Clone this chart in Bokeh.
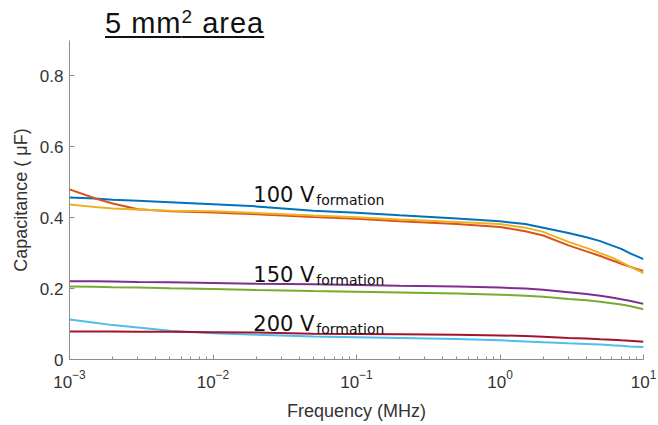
from bokeh.plotting import figure
from bokeh.models import Label, FixedTicker, Range1d, Div
from bokeh.layouts import column
from bokeh.embed import file_html
from bokeh.resources import INLINE

# ---- data ----
freq_mhz = [0.001, 0.0015, 0.002, 0.003, 0.005, 0.01, 0.02, 0.05, 0.1, 0.2, 0.5,
            1, 1.5, 2, 3, 4, 5, 6, 7, 8, 10]

cap_blue = [0.457, 0.454, 0.451, 0.448, 0.444, 0.438, 0.432, 0.420, 0.414, 0.407, 0.398,
            0.390, 0.382, 0.372, 0.357, 0.345, 0.334, 0.322, 0.312, 0.300, 0.283]
cap_orange = [0.480, 0.455, 0.440, 0.424, 0.418, 0.415, 0.410, 0.402, 0.397, 0.390, 0.382,
              0.374, 0.362, 0.350, 0.322, 0.305, 0.292, 0.280, 0.270, 0.262, 0.250]
cap_yellow = [0.437, 0.430, 0.426, 0.423, 0.420, 0.418, 0.413, 0.406, 0.401, 0.395, 0.388,
              0.382, 0.372, 0.360, 0.332, 0.315, 0.300, 0.288, 0.275, 0.263, 0.244]
cap_purple = [0.221, 0.2205, 0.220, 0.219, 0.218, 0.216, 0.214, 0.212, 0.210, 0.208, 0.206,
              0.203, 0.200, 0.197, 0.190, 0.185, 0.180, 0.175, 0.170, 0.166, 0.157]
cap_green = [0.206, 0.205, 0.204, 0.203, 0.201, 0.199, 0.196, 0.193, 0.191, 0.189, 0.186,
             0.183, 0.180, 0.177, 0.171, 0.167, 0.163, 0.159, 0.155, 0.151, 0.142]
cap_lightblue = [0.113, 0.104, 0.097, 0.090, 0.081, 0.074, 0.070, 0.065, 0.063, 0.061, 0.058,
                 0.054, 0.051, 0.049, 0.046, 0.044, 0.042, 0.040, 0.039, 0.037, 0.035]
cap_red = [0.079, 0.079, 0.079, 0.078, 0.078, 0.077, 0.076, 0.073, 0.072, 0.071, 0.070,
           0.068, 0.066, 0.064, 0.061, 0.059, 0.057, 0.056, 0.054, 0.053, 0.050]

series = [
    (cap_blue, "#0072BD"),
    (cap_orange, "#D95319"),
    (cap_yellow, "#EDB120"),
    (cap_purple, "#7E2F8E"),
    (cap_green, "#77AC30"),
    (cap_lightblue, "#4DBEEE"),
    (cap_red, "#A2142F"),
]

x_ticks = [0.001, 0.01, 0.1, 1, 10]
x_tick_keys = ["0.001", "0.01", "0.1", "1", "10"]
x_tick_labels = ["10⁻³", "10⁻²", "10⁻¹", "10⁰", "10¹"]
y_ticks = [0, 0.2, 0.4, 0.6, 0.8]
y_tick_keys = ["0", "0.2", "0.4", "0.6", "0.8"]
y_tick_labels = ["0", "0.2", "0.4", "0.6", "0.8"]

group_labels = ["100 V", "150 V", "200 V"]
group_label_x = [0.0191, 0.0191, 0.0191]
group_label_y = [0.465, 0.237, 0.101]

# ---- title (underlined, with superscript) ----
title = Div(text='<span style="text-decoration: underline; text-decoration-thickness: 2px; '
                 'text-underline-offset: 3px; letter-spacing: 1px;">5 mm<span style="position: relative; top: -10px; '
                 'font-size: 19px;">2</span> area</span>',
            width=658, height=40, margin=0,
            styles={"font-family": "Liberation Sans", "font-size": "29px", "line-height": "29px",
                    "color": "#111111", "padding-left": "105px", "padding-top": "9px",
                    "white-space": "nowrap"})

# ---- figure ----
p = figure(frame_width=574, frame_height=319, x_axis_type="log",
           x_range=Range1d(0.001, 10), y_range=Range1d(0, 0.9),
           output_backend="svg", toolbar_location=None,
           min_border_left=69, min_border_right=15, min_border_top=0, min_border_bottom=66,
           background_fill_color="white", border_fill_color="white", margin=0)
p.outline_line_color = None
p.grid.grid_line_color = None

for ys, col in series:
    p.line(freq_mhz, ys, line_color=col, line_width=2)

minor = [m * d for d in [0.001, 0.01, 0.1, 1] for m in range(2, 10)]
p.xaxis.ticker = FixedTicker(ticks=x_ticks, minor_ticks=minor)
p.xaxis.major_label_overrides = dict(zip(x_tick_keys, x_tick_labels))
p.yaxis.ticker = FixedTicker(ticks=y_ticks)
p.yaxis.major_label_overrides = dict(zip(y_tick_keys, y_tick_labels))

for ax in (p.xaxis[0], p.yaxis[0]):
    ax.axis_line_color = "#8c8c8c"
    ax.major_tick_line_color = "#8c8c8c"
    ax.minor_tick_line_color = "#8c8c8c"
    ax.major_tick_in = 5
    ax.major_tick_out = 0
    ax.minor_tick_in = 3
    ax.minor_tick_out = 0
    ax.major_label_text_font = "Liberation Sans"
    ax.major_label_text_font_size = "17px"
    ax.major_label_text_color = "#333333"
    ax.axis_label_text_font = "Liberation Sans"
    ax.axis_label_text_font_size = "18px"
    ax.axis_label_text_font_style = "normal"
    ax.axis_label_text_color = "#333333"

p.yaxis.minor_tick_line_color = None
p.xaxis.axis_label = "Frequency (MHz)"
p.yaxis.axis_label = "Capacitance ( μF)"
p.xaxis.major_label_standoff = 10
p.yaxis.major_label_standoff = 6
p.xaxis.axis_label_standoff = 10
p.yaxis.axis_label_standoff = 6

# group labels with subscripts
for txt, gx, gy in zip(group_labels, group_label_x, group_label_y):
    p.add_layout(Label(x=gx, y=gy, text=txt, text_font="DejaVu Sans", text_font_size="21px",
                       text_color="#111111", text_baseline="alphabetic", text_align="left"))
    p.add_layout(Label(x=gx, y=gy, text="formation", x_offset=63, y_offset=-5,
                       text_font="DejaVu Sans", text_font_size="14px",
                       text_color="#111111", text_baseline="alphabetic", text_align="left"))

layout = column(title, p, margin=0, spacing=0)
open("out.html", "w").write(file_html(layout, INLINE))
